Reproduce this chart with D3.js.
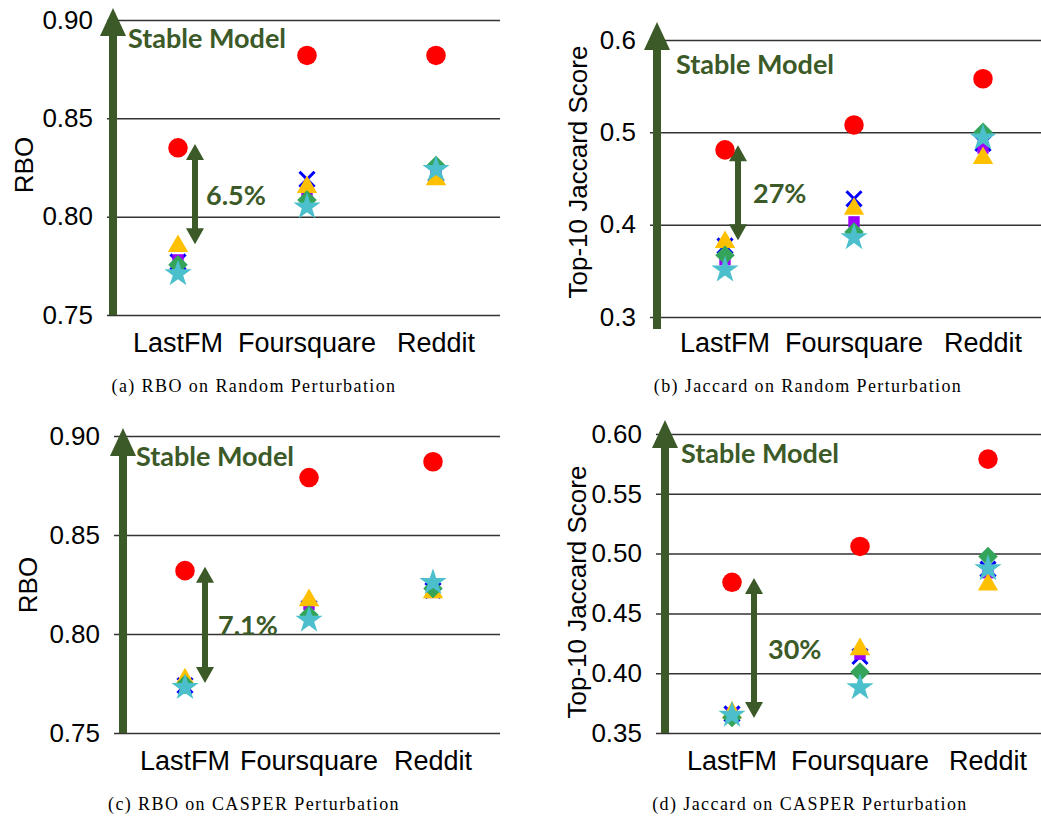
<!DOCTYPE html>
<html>
<head>
<meta charset="utf-8">
<script src="https://cdn.jsdelivr.net/npm/d3@7"></script>
<style>
  body { margin: 0; background: #fff; }
  svg { display: block; }
</style>
</head>
<body>
<svg id="chart" width="1041" height="820"></svg>
<script>
// categories (x axis)
const categories = ["LastFM", "Foursquare", "Reddit"];

// (a) RBO on Random Perturbation
const aCircle   = [0.835, 0.882, 0.882];
const aCross    = [0.777, 0.819, 0.822];
const aSquare   = [0.778, 0.811, 0.822];
const aTriangle = [0.785, 0.815, 0.819];
const aDiamond  = [0.7755, 0.8085, 0.826];
const aStar     = [0.771, 0.805, 0.824];

// (b) Jaccard on Random Perturbation
const bCircle   = [0.481, 0.508, 0.558];
const bCross    = [0.377, 0.428, 0.488];
const bSquare   = [0.362, 0.403, 0.483];
const bTriangle = [0.381, 0.417, 0.472];
const bDiamond  = [0.367, 0.392, 0.500];
const bStar     = [0.351, 0.386, 0.494];

// (c) RBO on CASPER Perturbation
const cCircle   = [0.832, 0.879, 0.887];
const cCross    = [0.774, 0.813, 0.822];
const cSquare   = [0.773, 0.815, 0.821];
const cTriangle = [0.777, 0.817, 0.821];
const cDiamond  = [0.7745, 0.8096, 0.823];
const cStar     = [0.773, 0.807, 0.826];

// (d) Jaccard on CASPER Perturbation
const dCircle   = [0.476, 0.506, 0.579];
const dCross    = [0.366, 0.414, 0.487];
const dSquare   = [0.366, 0.416, 0.484];
const dTriangle = [0.367, 0.420, 0.474];
const dDiamond  = [0.363, 0.401, 0.4975];
const dStar     = [0.365, 0.388, 0.4875];

// y ticks per panel
const rboTicks = [0.75, 0.80, 0.85, 0.90];
const jacTicksB = [0.3, 0.4, 0.5, 0.6];
const jacTicksD = [0.35, 0.40, 0.45, 0.50, 0.55, 0.60];

// gap annotations (label + value span of the double arrow)
const gapLabels = ["6.5%", "27%", "7.1%", "30%"];
const gapSpans = [[0.837, 0.786], [0.486, 0.383], [0.834, 0.7753], [0.4796, 0.3625]];

const captions = [
  "(a) RBO on Random Perturbation",
  "(b) Jaccard on Random Perturbation",
  "(c) RBO on CASPER Perturbation",
  "(d) Jaccard on CASPER Perturbation"
];

const green = "#3b5a27";

// marker styles, in drawing order
const markers = [
  {type: d3.symbolCircle, size: 300, fill: "#ff0000"},
  {type: d3.symbolTimes, size: 150, stroke: "#0000ff"},
  {type: d3.symbolSquare, size: 130, fill: "#9b00ff"},
  {type: d3.symbolTriangle, size: 180, fill: "#ffc000"},
  {type: d3.symbolSquare, size: 190, fill: "#34a45a", rotate: 45},
  {type: d3.symbolStar, size: 230, fill: "#4bbfcb"}
];

// panel layout
const panels = [
  {domain: [0.75, 0.90], ticks: rboTicks, fmt: ".2f", top: 20, bottom: 315,
   gx0: 107, gx1: 500, axisX: 113, arrowTop: 8, arrowBottom: 315,
   cx0: 178, cx1: 436, catY: 352, yTitle: "RBO", titleX: 24, titleY: 165,
   capX: 254, capY: 392, stableX: 128, stableY: 48, gapX: 195, gapTextX: 206,
   series: [aCircle, aCross, aSquare, aTriangle, aDiamond, aStar]},
  {domain: [0.3, 0.6], ticks: jacTicksB, fmt: ".1f", top: 40, bottom: 317,
   gx0: 650, gx1: 1041, axisX: 657, arrowTop: 22, arrowBottom: 329,
   cx0: 725, cx1: 983, catY: 352, yTitle: "Top-10 Jaccard Score", titleX: 578, titleY: 172,
   capX: 808, capY: 392, stableX: 676, stableY: 74, gapX: 738, gapTextX: 753,
   series: [bCircle, bCross, bSquare, bTriangle, bDiamond, bStar]},
  {domain: [0.75, 0.90], ticks: rboTicks, fmt: ".2f", top: 436, bottom: 733,
   gx0: 114, gx1: 500, axisX: 123, arrowTop: 428, arrowBottom: 733,
   cx0: 185, cx1: 433, catY: 770, yTitle: "RBO", titleX: 28, titleY: 585,
   capX: 254, capY: 810, stableX: 136, stableY: 466, gapX: 205, gapTextX: 218,
   series: [cCircle, cCross, cSquare, cTriangle, cDiamond, cStar]},
  {domain: [0.35, 0.60], ticks: jacTicksD, fmt: ".2f", top: 434, bottom: 733,
   gx0: 656, gx1: 1041, axisX: 665, arrowTop: 420, arrowBottom: 733,
   cx0: 732, cx1: 988, catY: 770, yTitle: "Top-10 Jaccard Score", titleX: 577, titleY: 592,
   capX: 810, capY: 810, stableX: 681, stableY: 463, gapX: 754, gapTextX: 768,
   series: [dCircle, dCross, dSquare, dTriangle, dDiamond, dStar]}
];

const svg = d3.select("#chart");

panels.forEach(function (p, i) {
  const g = svg.append("g");

  const y = d3.scaleLinear().domain(p.domain).range([p.bottom, p.top]);
  const x = d3.scalePoint().domain(categories).range([p.cx0, p.cx1]);

  // gridlines + tick labels
  const axis = d3.axisLeft(y)
      .tickValues(p.ticks)
      .tickFormat(d3.format(p.fmt))
      .tickSize(-(p.gx1 - p.gx0))
      .tickPadding(14);
  const ax = g.append("g")
      .attr("transform", "translate(" + p.gx0 + ",0)")
      .call(axis);
  ax.select(".domain").remove();
  ax.selectAll(".tick line").attr("stroke", "#333").attr("stroke-width", 1.5);
  ax.selectAll(".tick text")
      .attr("font-family", "'Liberation Sans', Arial, sans-serif")
      .attr("font-size", 26)
      .attr("fill", "#000");

  // y title
  g.append("text")
      .attr("transform", "translate(" + p.titleX + "," + p.titleY + ") rotate(-90)")
      .attr("text-anchor", "middle")
      .attr("dominant-baseline", "central")
      .attr("font-family", "'Liberation Sans', Arial, sans-serif")
      .attr("font-size", 26)
      .text(p.yTitle);

  // category labels
  g.selectAll(".cat")
    .data(categories)
    .enter().append("text")
      .attr("x", d => x(d))
      .attr("y", p.catY)
      .attr("text-anchor", "middle")
      .attr("font-family", "'Liberation Sans', Arial, sans-serif")
      .attr("font-size", 27)
      .text(d => d);

  // big "stable model" arrow
  const hw = 13, hh = 28, sw = 4;
  const ap = d3.path();
  ap.moveTo(p.axisX - sw, p.arrowBottom);
  ap.lineTo(p.axisX - sw, p.arrowTop + hh);
  ap.lineTo(p.axisX - hw, p.arrowTop + hh);
  ap.lineTo(p.axisX, p.arrowTop);
  ap.lineTo(p.axisX + hw, p.arrowTop + hh);
  ap.lineTo(p.axisX + sw, p.arrowTop + hh);
  ap.lineTo(p.axisX + sw, p.arrowBottom);
  ap.closePath();
  g.append("path").attr("d", ap.toString()).attr("fill", green);

  g.append("text")
      .attr("x", p.stableX)
      .attr("y", p.stableY)
      .attr("font-family", "Lato, 'Open Sans', sans-serif")
      .attr("font-weight", "bold")
      .attr("font-size", 27)
      .attr("fill", green)
      .text("Stable Model");

  // double arrow for the gap
  const y1 = y(gapSpans[i][0]), y2 = y(gapSpans[i][1]);
  const dw = 9, dh = 16, ds = 3;
  const dp = d3.path();
  dp.moveTo(p.gapX, y1);
  dp.lineTo(p.gapX + dw, y1 + dh);
  dp.lineTo(p.gapX + ds, y1 + dh);
  dp.lineTo(p.gapX + ds, y2 - dh);
  dp.lineTo(p.gapX + dw, y2 - dh);
  dp.lineTo(p.gapX, y2);
  dp.lineTo(p.gapX - dw, y2 - dh);
  dp.lineTo(p.gapX - ds, y2 - dh);
  dp.lineTo(p.gapX - ds, y1 + dh);
  dp.lineTo(p.gapX - dw, y1 + dh);
  dp.closePath();
  g.append("path").attr("d", dp.toString()).attr("fill", green);

  g.append("text")
      .attr("x", p.gapTextX)
      .attr("y", (y1 + y2) / 2)
      .attr("dominant-baseline", "central")
      .attr("font-family", "Lato, 'Open Sans', sans-serif")
      .attr("font-weight", "bold")
      .attr("font-size", 27)
      .attr("fill", green)
      .text(gapLabels[i]);

  // markers
  p.series.forEach(function (vals, s) {
    const m = markers[s];
    const sym = d3.symbol().type(m.type).size(m.size);
    g.selectAll(".m" + s)
      .data(vals)
      .enter().append("path")
        .attr("d", sym)
        .attr("transform", (d, k) => "translate(" + x(categories[k]) + "," + y(d) + ")" + (m.rotate ? " rotate(" + m.rotate + ")" : ""))
        .attr("fill", m.fill || "none")
        .attr("stroke", m.stroke || "none")
        .attr("stroke-width", m.stroke ? 3 : 0);
  });

  // caption
  g.append("text")
      .attr("x", p.capX)
      .attr("y", p.capY)
      .attr("text-anchor", "middle")
      .attr("font-family", "'Liberation Serif', 'Times New Roman', serif")
      .attr("font-size", 18)
      .attr("letter-spacing", 1.4)
      .text(captions[i]);
});
</script>
</body>
</html>
